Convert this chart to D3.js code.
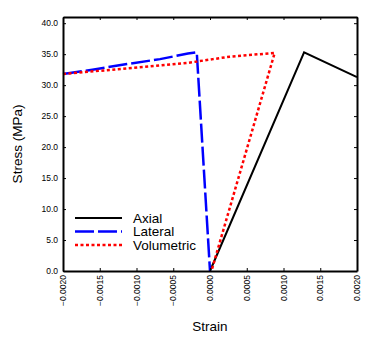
<!DOCTYPE html>
<html>
<head>
<meta charset="utf-8">
<script src="https://cdn.jsdelivr.net/npm/d3@7"></script>
<style>
  body { margin: 0; background: #fff; }
  text { font-family: "Liberation Sans", Arial, sans-serif; }
</style>
</head>
<body>
<script>
// chart size
const width = 371;
const height = 338;
const margin = { top: 17, right: 14, bottom: 67, left: 63 };

// data (strain, stress MPa)
const axialStrain = [0.0, 0.00128, 0.0020];
const axialStress = [0.0, 35.3, 31.3];

const lateralStrain = [-0.0020, -0.0016, -0.00113, -0.00068, -0.0003, -0.00018, 0.0];
const lateralStress = [31.8, 32.5, 33.4, 34.2, 35.1, 35.3, 0.0];

const volStrain = [-0.0020, -0.00113, -0.0003, 0.00004, 0.00027, 0.00088, 0.00002];
const volStress = [31.8, 32.7, 33.6, 34.2, 34.6, 35.2, 0.0];

const xTicks = [-0.0020, -0.0015, -0.0010, -0.0005, 0.0000, 0.0005, 0.0010, 0.0015, 0.0020];
const yTicks = [0, 5, 10, 15, 20, 25, 30, 35, 40];

const seriesNames = ["Axial", "Lateral", "Volumetric"];

const svg = d3.select("body").append("svg")
  .attr("width", width)
  .attr("height", height);

const x = d3.scaleLinear().domain([-0.002, 0.002]).range([margin.left, width - margin.right]);
const y = d3.scaleLinear().domain([0, 41]).range([height - margin.bottom, margin.top]);

const series = [
  { name: seriesNames[0], xs: axialStrain, ys: axialStress, color: "#000000", width: 2, dash: null },
  { name: seriesNames[1], xs: lateralStrain, ys: lateralStress, color: "#0000ff", width: 2.5, dash: "19,4" },
  { name: seriesNames[2], xs: volStrain, ys: volStress, color: "#ff0000", width: 2.5, dash: "3,2.5" }
];

const line = d3.line()
  .x(function(d) { return x(d[0]); })
  .y(function(d) { return y(d[1]); });

series.forEach(function(s) {
  svg.append("path")
    .datum(d3.zip(s.xs, s.ys))
    .attr("d", line)
    .attr("fill", "none")
    .attr("stroke", s.color)
    .attr("stroke-width", s.width)
    .attr("stroke-dasharray", s.dash);
});

// axes with inward ticks
const bottom = svg.append("g")
  .attr("transform", "translate(0," + (height - margin.bottom) + ")")
  .call(d3.axisBottom(x).tickValues(xTicks).tickSizeInner(-3).tickSizeOuter(0).tickFormat(d3.format(".4f")));
bottom.selectAll("text")
  .attr("transform", "rotate(-90)")
  .attr("text-anchor", "end")
  .attr("x", -4)
  .attr("y", 0)
  .attr("dy", "0.32em")
  .style("font-size", "8.5px");

const left = svg.append("g")
  .attr("transform", "translate(" + margin.left + ",0)")
  .call(d3.axisLeft(y).tickValues(yTicks).tickSizeInner(-3).tickSizeOuter(0).tickFormat(d3.format(".1f")));
left.selectAll("text")
  .attr("x", -5)
  .style("font-size", "8.5px");

svg.append("g")
  .attr("transform", "translate(0," + margin.top + ")")
  .call(d3.axisTop(x).tickValues(xTicks).tickSizeInner(-3).tickSizeOuter(0).tickFormat(""));

svg.append("g")
  .attr("transform", "translate(" + (width - margin.right) + ",0)")
  .call(d3.axisRight(y).tickValues(yTicks).tickSizeInner(-3).tickSizeOuter(0).tickFormat(""));

svg.selectAll(".domain").attr("stroke", "#000").attr("stroke-width", 2);
svg.selectAll(".tick line").attr("stroke", "#000").attr("stroke-width", 1);

// axis titles
svg.append("text")
  .attr("x", x(0))
  .attr("y", 331)
  .attr("text-anchor", "middle")
  .style("font-size", "13.5px")
  .text("Strain");

svg.append("text")
  .attr("transform", "translate(22," + ((margin.top + height - margin.bottom) / 2) + ") rotate(-90)")
  .attr("text-anchor", "middle")
  .style("font-size", "13.5px")
  .text("Stress (MPa)");

// legend
const legend = svg.append("g");
series.forEach(function(s, i) {
  const ly = 218 + i * 13.5;
  legend.append("line")
    .attr("x1", 75).attr("x2", 122)
    .attr("y1", ly).attr("y2", ly)
    .attr("stroke", s.color)
    .attr("stroke-width", s.width)
    .attr("stroke-dasharray", s.dash);
  legend.append("text")
    .attr("x", 133)
    .attr("y", ly)
    .attr("dy", "0.35em")
    .style("font-size", "13.5px")
    .text(s.name);
});
</script>
</body>
</html>
